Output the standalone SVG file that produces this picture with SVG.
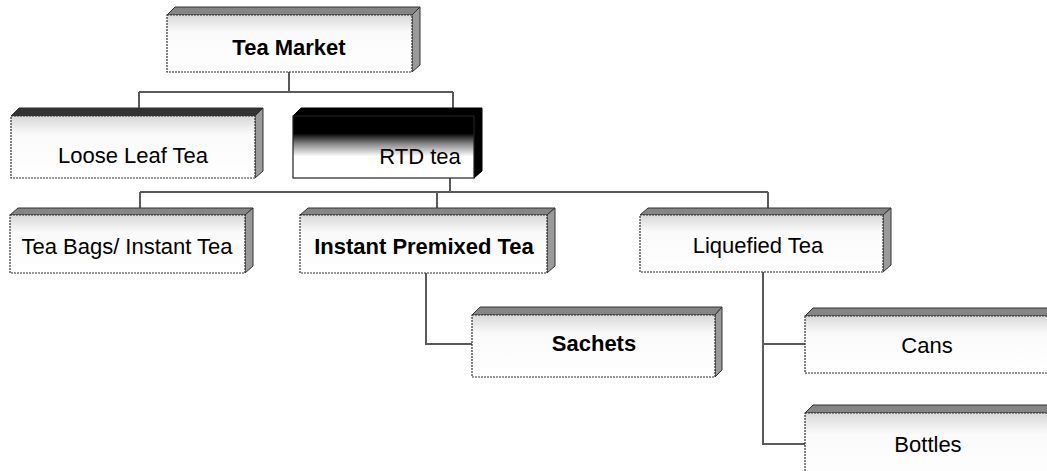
<svg xmlns="http://www.w3.org/2000/svg" width="1047" height="471" viewBox="0 0 1047 471">
<defs>
<linearGradient id="face" x1="0" y1="0" x2="0" y2="1">
<stop offset="0" stop-color="#d8d8d8"/>
<stop offset="0.3" stop-color="#fafafa"/>
<stop offset="1" stop-color="#ffffff"/>
</linearGradient>
<linearGradient id="dark" x1="0" y1="0" x2="0" y2="1">
<stop offset="0" stop-color="#000"/>
<stop offset="0.28" stop-color="#000"/>
<stop offset="0.45" stop-color="#888"/>
<stop offset="0.65" stop-color="#fff"/>
<stop offset="1" stop-color="#fff"/>
</linearGradient>
</defs>
<style>
.front{fill:url(#face);stroke:#333;stroke-width:1.2;stroke-dasharray:2 1}
.top{fill:#858585;stroke:#333;stroke-width:1}
.side{fill:#9a9a9a;stroke:#333;stroke-width:1}
.dtop{fill:#000;stroke:#000;stroke-width:1}
.dfront{fill:url(#dark);stroke:#222;stroke-width:1.2}
.conn{fill:none;stroke:#5a5a5a;stroke-width:2}
text{font-family:"Liberation Sans",Arial,sans-serif;font-size:22px;fill:#000;text-anchor:middle}
.b{font-weight:bold}
</style>
<g id="connectors">
<path class="conn" d="M289 72V92M139 92H453M139 92V108M453 92V108"/>
<path class="conn" d="M450 178V192M140 192H768M140 192V209M437 192V209M768 192V209"/>
<path class="conn" d="M426 273V344H472"/>
<path class="conn" d="M763 272V444H805M763 344H805"/>
</g>
<g id="n-tea-market">
<path class="top" d="M167 15L175 7H420L412 15Z"/>
<path class="side" d="M412 15L420 7V65L412 72Z"/>
<rect class="front" x="167" y="15" width="245" height="57"/>
<text class="b" x="289" y="55">Tea Market</text>
</g>
<g id="n-loose-leaf">
<path class="top" d="M11 116L19 108H263L255 116Z" style="fill:#333"/>
<path class="side" d="M255 116L263 108V171L255 178Z"/>
<rect class="front" x="11" y="116" width="244" height="62"/>
<text x="133" y="163">Loose Leaf Tea</text>
</g>
<g id="n-rtd">
<path class="dtop" d="M293 116L301 108H482L474 116Z"/>
<path class="dtop" d="M474 116L482 108V171L474 178Z"/>
<rect class="dfront" x="293" y="116" width="181" height="62"/>
<text x="420" y="164">RTD tea</text>
</g>
<g id="n-tea-bags">
<path class="top" d="M10 215L18 208H253L245 215Z"/>
<path class="side" d="M245 215L253 208V266L245 273Z"/>
<rect class="front" x="10" y="215" width="235" height="58"/>
<text x="127" y="254">Tea Bags/ Instant Tea</text>
</g>
<g id="n-instant-premixed">
<path class="top" d="M300 215L308 208H555L547 215Z"/>
<path class="side" d="M547 215L555 208V266L547 273Z"/>
<rect class="front" x="300" y="215" width="247" height="58"/>
<text class="b" x="424" y="254">Instant Premixed Tea</text>
</g>
<g id="n-liquefied">
<path class="top" d="M640 215L648 208H891L883 215Z"/>
<path class="side" d="M883 215L891 208V265L883 272Z"/>
<rect class="front" x="640" y="215" width="243" height="57"/>
<text x="758" y="253">Liquefied Tea</text>
</g>
<g id="n-sachets">
<path class="top" d="M472 315L480 307H722L715 315Z"/>
<path class="side" d="M715 315L722 307V370L715 377Z"/>
<rect class="front" x="472" y="315" width="243" height="62"/>
<text class="b" x="594" y="351">Sachets</text>
</g>
<g id="n-cans">
<path class="top" d="M805 316L813 308H1060L1052 316Z"/>
<rect class="front" x="805" y="316" width="250" height="57"/>
<text x="927" y="353">Cans</text>
</g>
<g id="n-bottles">
<path class="top" d="M805 413L813 405H1060L1052 413Z"/>
<rect class="front" x="805" y="413" width="250" height="70"/>
<text x="928" y="452">Bottles</text>
</g>
</svg>
